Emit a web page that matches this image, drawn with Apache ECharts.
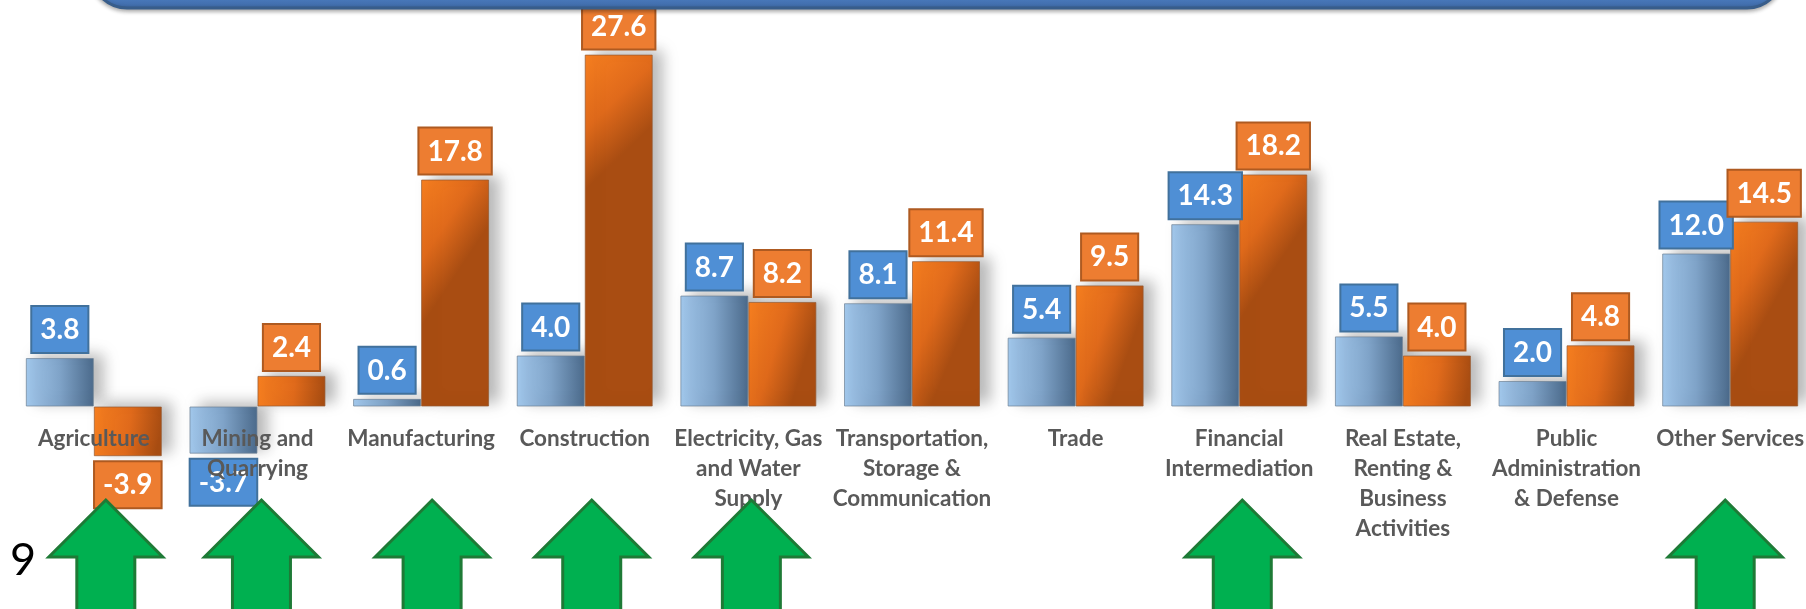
<!DOCTYPE html>
<html>
<head>
<meta charset="utf-8">
<script src="https://cdn.jsdelivr.net/npm/echarts@6/dist/echarts.min.js"></script>
<style>
html,body{margin:0;padding:0;background:#fff;}
#chart{width:1806px;height:609px;}
</style>
</head>
<body>
<div id="chart"></div>
<script>
// ---- data ----
const categories = [
  'Agriculture',
  'Mining and\nQuarrying',
  'Manufacturing',
  'Construction',
  'Electricity, Gas\nand Water\nSupply',
  'Transportation,\nStorage &\nCommunication',
  'Trade',
  'Financial\nIntermediation',
  'Real Estate,\nRenting &\nBusiness\nActivities',
  'Public\nAdministration\n& Defense',
  'Other Services'
];
const seriesBlue = [3.8, -3.7, 0.6, 4.0, 8.7, 8.1, 5.4, 14.3, 5.5, 2.0, 12.0];
const seriesOrange = [-3.9, 2.4, 17.8, 27.6, 8.2, 11.4, 9.5, 18.2, 4.0, 4.8, 14.5];
// categories marked with a green arrow
const arrowCategories = [0, 1, 2, 3, 4, 7, 10];
const arrowNudge = [12, 4, 11, 7, 3, 3, -5];
const pageNumber = '9';

// ---- layout ----
const W = 1806, H = 609;
const GRID = { left: 12, right: -6, top: 24, bottom: 75 };
const Y_MIN = -10, Y_MAX = 30;
const plotH = H - GRID.top - GRID.bottom;
const zeroFromBottom = plotH * (0 - Y_MIN) / (Y_MAX - Y_MIN);

const chart = echarts.init(document.getElementById('chart'));

function labelStyle(bg, border) {
  return {
    show: true,
    position: 'top',
    distance: 6,
    formatter: p => Number(p.value).toFixed(1),
    color: '#ffffff',
    fontFamily: 'Lato',
    fontWeight: 'bold',
    fontSize: 28,
    lineHeight: 32,
    padding: [7, 8, 6, 8],
    backgroundColor: bg,
    borderColor: border,
    borderWidth: 2
  };
}

function buildData(values) {
  return values.map(v => ({
    value: v,
    label: { position: v < 0 ? 'bottom' : 'top' }
  }));
}

const blueGrad = new echarts.graphic.LinearGradient(0, 0, 1, 0, [
  { offset: 0, color: '#a2c8ec' },
  { offset: 0.5, color: '#7fa3c8' },
  { offset: 1, color: '#4b6a8b' }
]);
const orangeGrad = new echarts.graphic.LinearGradient(0, 0, 1, 0.2, [
  { offset: 0, color: '#f77f20' },
  { offset: 0.55, color: '#e06a1b' },
  { offset: 1, color: '#a94d12' }
]);

const option = {
  animation: false,
  backgroundColor: '#ffffff',
  grid: {
    left: GRID.left, right: GRID.right, top: GRID.top, bottom: GRID.bottom,
    containLabel: false,
    outerBoundsMode: 'none'
  },
  xAxis: {
    type: 'category',
    data: categories,
    z: 10,
    offset: -zeroFromBottom,
    axisLine: { show: false, onZero: false },
    axisTick: { show: false },
    axisLabel: {
      interval: 0,
      color: '#595959',
      fontFamily: 'Lato',
      fontWeight: 'bold',
      fontSize: 22.5,
      lineHeight: 30,
      margin: 17
    }
  },
  yAxis: {
    type: 'value',
    min: Y_MIN,
    max: Y_MAX,
    show: false,
    splitLine: { show: false }
  },
  series: [
    {
      name: 'Blue',
      type: 'bar',
      barWidth: 68,
      barGap: '0%',
      data: buildData(seriesBlue),
      itemStyle: {
        color: blueGrad,
        borderColor: 'rgba(110,130,150,0.7)',
        borderWidth: 1,
        shadowColor: 'rgba(0,0,0,0.28)',
        shadowBlur: 14,
        shadowOffsetX: 10,
        shadowOffsetY: -4
      },
      label: labelStyle('#4f8fd5', '#41719c')
    },
    {
      name: 'Orange',
      type: 'bar',
      barWidth: 68,
      barGap: '0%',
      data: buildData(seriesOrange),
      itemStyle: {
        color: orangeGrad,
        borderColor: 'rgba(150,90,50,0.7)',
        borderWidth: 1,
        shadowColor: 'rgba(0,0,0,0.28)',
        shadowBlur: 14,
        shadowOffsetX: 10,
        shadowOffsetY: -4
      },
      label: labelStyle('#ed7d31', '#ae5a21')
    }
  ],
  graphic: []
};
chart.setOption(option);

// ---- decorations: header band, page number, arrows ----
const graphics = [
  {
    type: 'rect',
    z: 20,
    shape: { x: 91, y: -80, width: 1692, height: 88, r: 36 },
    style: {
      fill: new echarts.graphic.LinearGradient(0, 0, 0, 1, [
        { offset: 0, color: '#5a8ad0' },
        { offset: 0.85, color: '#4c7ec2' },
        { offset: 1, color: '#3d67a3' }
      ]),
      stroke: '#385d8a',
      lineWidth: 3,
      shadowColor: 'rgba(0,0,0,0.3)',
      shadowBlur: 4,
      shadowOffsetY: 2
    }
  },
  {
    type: 'text',
    z: 20,
    left: 10,
    top: 538,
    style: {
      text: pageNumber,
      fontFamily: 'Lato',
      fontSize: 45,
      fill: '#000000'
    }
  }
];
arrowCategories.forEach((ci, k) => {
  const cx = chart.convertToPixel({ xAxisIndex: 0 }, ci) + arrowNudge[k];
  const tipY = 500, baseY = 557, bottomY = 640;
  graphics.push({
    type: 'polygon',
    z: 15,
    shape: {
      points: [
        [cx, tipY], [cx + 57, baseY], [cx + 29, baseY], [cx + 29, bottomY],
        [cx - 29, bottomY], [cx - 29, baseY], [cx - 57, baseY]
      ]
    },
    style: { fill: '#00b050', stroke: '#1e7a36', lineWidth: 3 }
  });
});
chart.setOption({ graphic: graphics });
</script>
</body>
</html>
